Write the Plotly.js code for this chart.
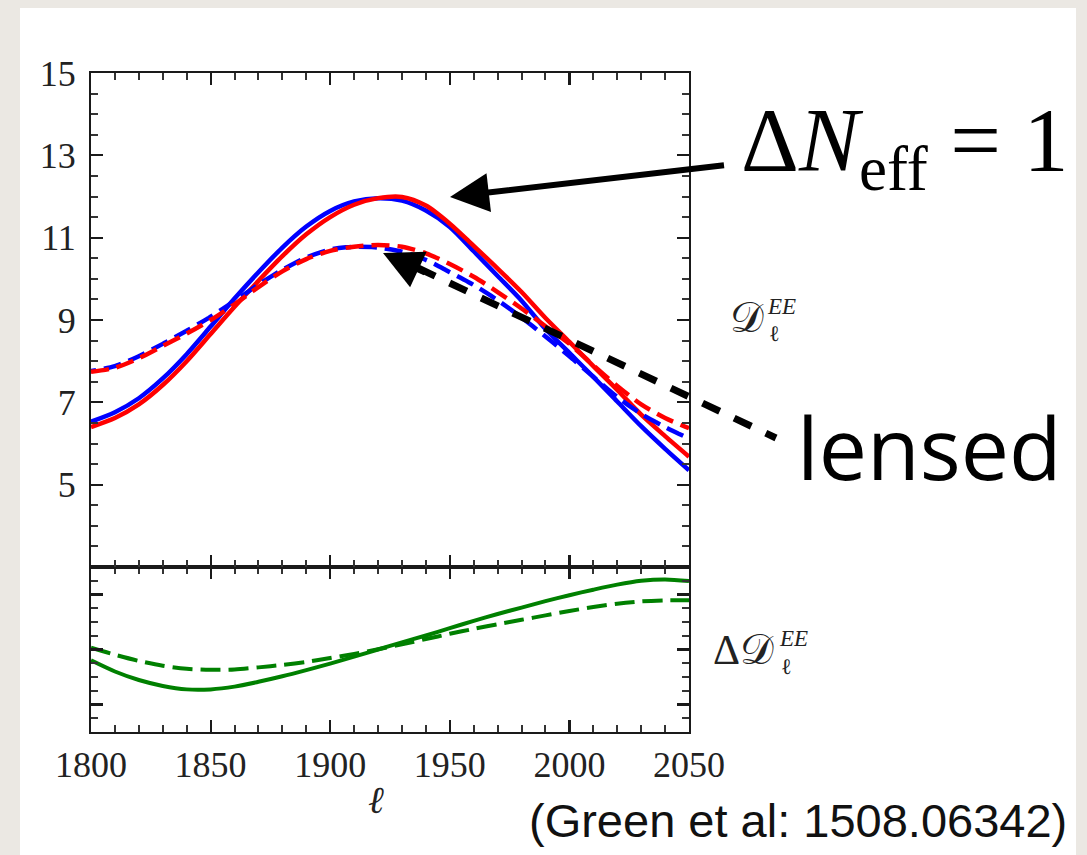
<!DOCTYPE html>
<html>
<head>
<meta charset="utf-8">
<script src="https://cdn.plot.ly/plotly-3.0.1.min.js"></script>
<style>html,body{margin:0;padding:0;background:#ebe8e3;}#chart{width:1087px;height:855px;}</style>
</head>
<body>
<div id="chart"></div>
<script>
// ---- data ----
const ell = [1800, 1810, 1820, 1830, 1840, 1850, 1860, 1870, 1880, 1890, 1900, 1910, 1920,
             1930, 1940, 1950, 1960, 1970, 1980, 1990, 2000, 2010, 2020, 2030, 2040, 2050];
// D_l^EE, unlensed (solid) and lensed (dashed); blue = reference, red = Delta N_eff = 1
const unlensedRef  = [6.53, 6.76, 7.10, 7.58, 8.17, 8.84, 9.52, 10.16, 10.76, 11.27, 11.65, 11.88, 11.96,
                      11.90, 11.66, 11.26, 10.67, 10.07, 9.47, 8.78, 8.20, 7.62, 7.02, 6.42, 5.87, 5.35];
const unlensedNeff = [6.40, 6.62, 6.95, 7.42, 8.00, 8.66, 9.32, 9.95, 10.55, 11.08, 11.50, 11.80, 11.96,
                      11.99, 11.78, 11.34, 10.80, 10.25, 9.68, 9.05, 8.47, 7.88, 7.30, 6.70, 6.18, 5.68];
const lensedRef    = [7.76, 7.88, 8.12, 8.42, 8.74, 9.08, 9.46, 9.86, 10.22, 10.52, 10.71, 10.78, 10.76,
                      10.66, 10.46, 10.16, 9.85, 9.48, 9.06, 8.60, 8.12, 7.62, 7.13, 6.72, 6.40, 6.12];
const lensedNeff   = [7.74, 7.84, 8.07, 8.37, 8.67, 9.00, 9.38, 9.80, 10.18, 10.48, 10.68, 10.78, 10.82,
                      10.78, 10.62, 10.36, 10.05, 9.68, 9.28, 8.85, 8.42, 7.90, 7.40, 6.95, 6.62, 6.37];
// Delta D_l^EE (lower panel, unlabelled axis units)
const diffUnlensed = [5.21, 4.40, 3.78, 3.35, 3.10, 3.10, 3.30, 3.65, 4.05, 4.50, 4.97, 5.48, 6.00,
                      6.52, 7.02, 7.55, 8.08, 8.58, 9.05, 9.52, 9.95, 10.35, 10.72, 11.00, 11.10, 10.98];
const diffLensed   = [6.13, 5.62, 5.17, 4.82, 4.60, 4.52, 4.55, 4.70, 4.88, 5.10, 5.38, 5.68, 6.02,
                      6.38, 6.76, 7.14, 7.50, 7.84, 8.16, 8.48, 8.80, 9.09, 9.33, 9.50, 9.57, 9.58];

const xTickStart = 1800, xTickStep = 50;
const yTicksUpper = [5, 7, 9, 11, 13, 15];
const yTicksLower = [2, 6, 10];

// ---- geometry helpers (page pixels -> paper fractions) ----
const W = 1087, H = 855;
const px = v => v / W;
const py = v => (H - v) / H;

const serif = 'Liberation Serif';
const ink = '#1a1a1a';

const traces = [
  {x: ell, y: unlensedRef, xaxis: 'x2', yaxis: 'y2', mode: 'lines', line: {color: '#0000ff', width: 4.5, shape: 'spline', smoothing: 0.8}, name: 'unlensed, ΔNeff=0'},
  {x: ell, y: unlensedNeff, xaxis: 'x2', yaxis: 'y2', mode: 'lines', line: {color: '#ff0000', width: 4.5, shape: 'spline', smoothing: 0.8}, name: 'unlensed, ΔNeff=1'},
  {x: ell, y: lensedRef, xaxis: 'x2', yaxis: 'y2', mode: 'lines', line: {color: '#0000ff', width: 4.5, shape: 'spline', smoothing: 0.8, dash: '5px,8px,13px,0px'}, name: 'lensed, ΔNeff=0'},
  {x: ell, y: lensedNeff, xaxis: 'x2', yaxis: 'y2', mode: 'lines', line: {color: '#ff0000', width: 4.5, shape: 'spline', smoothing: 0.8, dash: '18px,8px'}, name: 'lensed, ΔNeff=1'},
  {x: ell, y: diffUnlensed, xaxis: 'x', yaxis: 'y', mode: 'lines', line: {color: '#008000', width: 4, shape: 'spline', smoothing: 0.8}, name: 'difference unlensed'},
  {x: ell, y: diffLensed, xaxis: 'x', yaxis: 'y', mode: 'lines', line: {color: '#008000', width: 4, shape: 'spline', smoothing: 0.8, dash: '20px,8px'}, name: 'difference lensed'}
];

const minorStyle = {ticks: 'inside', ticklen: 7, tickwidth: 2, tickcolor: '#333333', showgrid: false};
const axisCommon = {
  showline: true, linewidth: 2, linecolor: ink, mirror: 'allticks',
  ticks: 'inside', ticklen: 12, tickwidth: 2.2, tickcolor: ink,
  showgrid: false, zeroline: false,
  tickfont: {family: serif, size: 36, color: '#222222'}
};

const xd = [px(91), px(689)];
const layout = {
  width: W, height: H,
  margin: {l: 0, r: 0, t: 0, b: 0},
  paper_bgcolor: '#ebe8e3',
  plot_bgcolor: 'rgba(0,0,0,0)',
  showlegend: false,
  xaxis: Object.assign({}, axisCommon, {
    domain: xd, anchor: 'y', range: [1800, 2050],
    tickmode: 'linear', tick0: xTickStart, dtick: xTickStep,
    minor: Object.assign({tickmode: 'linear', tick0: 1800, dtick: 10}, minorStyle)
  }),
  xaxis2: Object.assign({}, axisCommon, {
    domain: xd, anchor: 'y2', range: [1800, 2050],
    tickmode: 'linear', tick0: xTickStart, dtick: xTickStep,
    showticklabels: false,
    minor: Object.assign({tickmode: 'linear', tick0: 1800, dtick: 10}, minorStyle)
  }),
  yaxis: Object.assign({}, axisCommon, {
    domain: [py(732), py(567)], anchor: 'x', range: [0, 12],
    tickmode: 'array', tickvals: yTicksLower,
    showticklabels: false,
    minor: Object.assign({tickmode: 'linear', tick0: 0, dtick: 1}, minorStyle)
  }),
  yaxis2: Object.assign({}, axisCommon, {
    domain: [py(567), py(73)], anchor: 'x2', range: [3, 15],
    tickmode: 'array', tickvals: yTicksUpper, ticktext: yTicksUpper.map(String),
    ticklabelstandoff: 6,
    minor: Object.assign({tickmode: 'linear', tick0: 3, dtick: 0.5}, minorStyle)
  }),
  shapes: [
    {type: 'rect', xref: 'paper', yref: 'paper', x0: px(20), x1: px(1076), y0: 0, y1: py(8),
     fillcolor: '#ffffff', line: {width: 0}, layer: 'below'},
    {type: 'line', xref: 'paper', yref: 'paper', x0: px(418), y0: py(268), x1: px(776), y1: py(438),
     line: {color: '#000000', width: 7, dash: '19px,16px'}, layer: 'above'}
  ],
  annotations: [
    {xref: 'paper', yref: 'paper', x: px(904), y: py(148), xanchor: 'center', yanchor: 'middle',
     text: 'Δ<i>N</i><sub>eff</sub> = 1', showarrow: false,
     font: {family: serif, size: 90, color: '#000000'}},
    {xref: 'paper', yref: 'paper', x: px(450), y: py(197), ax: 277, ay: -32, text: ' ',
     showarrow: true, arrowhead: 2, arrowsize: 1.3, arrowwidth: 6, arrowcolor: '#000000', standoff: 0},
    {xref: 'paper', yref: 'paper', x: px(383), y: py(253), ax: 45, ay: 21, text: ' ',
     showarrow: true, arrowhead: 2, arrowsize: 1.3, arrowwidth: 6, arrowcolor: '#000000', standoff: 0},
    {xref: 'paper', yref: 'paper', x: px(929), y: py(446), xanchor: 'center', yanchor: 'middle',
     text: 'lensed', showarrow: false,
     font: {family: 'Open Sans', size: 86, color: '#000000'}},
    // D_l^EE (upper)
    {xref: 'paper', yref: 'paper', x: px(747), y: py(318), xanchor: 'center', yanchor: 'middle',
     text: '𝒟', showarrow: false, font: {family: serif, size: 42, color: '#222222'}},
    {xref: 'paper', yref: 'paper', x: px(765), y: py(306), xanchor: 'left', yanchor: 'middle',
     text: '<i>EE</i>', showarrow: false, font: {family: serif, size: 23, color: '#222222'}},
    {xref: 'paper', yref: 'paper', x: px(774), y: py(334), xanchor: 'center', yanchor: 'middle',
     text: 'ℓ', showarrow: false, font: {family: serif, size: 22, color: '#222222'}},
    // Delta D_l^EE (lower)
    {xref: 'paper', yref: 'paper', x: px(743), y: py(650), xanchor: 'center', yanchor: 'middle',
     text: 'Δ𝒟', showarrow: false, font: {family: serif, size: 42, color: '#222222'}},
    {xref: 'paper', yref: 'paper', x: px(777), y: py(638), xanchor: 'left', yanchor: 'middle',
     text: '<i>EE</i>', showarrow: false, font: {family: serif, size: 23, color: '#222222'}},
    {xref: 'paper', yref: 'paper', x: px(786), y: py(666), xanchor: 'center', yanchor: 'middle',
     text: 'ℓ', showarrow: false, font: {family: serif, size: 22, color: '#222222'}},
    // x axis label
    {xref: 'paper', yref: 'paper', x: px(376), y: py(800), xanchor: 'center', yanchor: 'middle',
     text: '<i>ℓ</i>', showarrow: false, font: {family: serif, size: 38, color: '#222222'}},
    // citation
    {xref: 'paper', yref: 'paper', x: px(798), y: py(820), xanchor: 'center', yanchor: 'middle',
     text: '(Green et al: 1508.06342)', showarrow: false,
     font: {family: 'Liberation Sans', size: 47, color: '#111111'}}
  ]
};

Plotly.newPlot('chart', traces, layout, {staticPlot: true, displayModeBar: false});
</script>
</body>
</html>
